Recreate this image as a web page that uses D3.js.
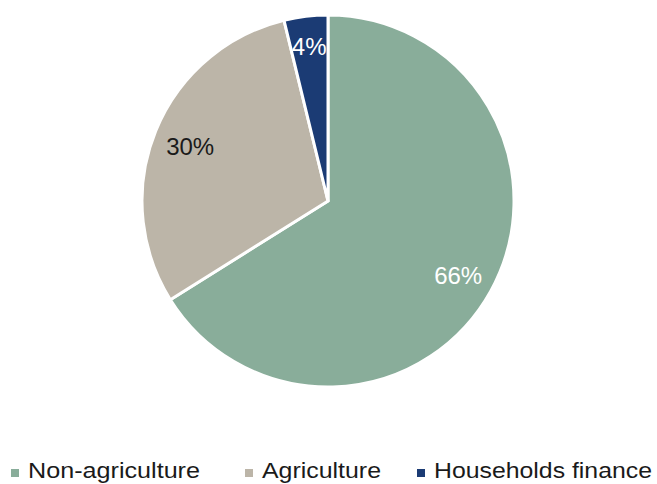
<!DOCTYPE html>
<html>
<head>
<meta charset="utf-8">
<script src="https://cdn.jsdelivr.net/npm/d3@7"></script>
<style>
  html, body { margin: 0; padding: 0; background: #ffffff; }
  svg { display: block; font-family: "Liberation Sans", Arial, sans-serif; }
</style>
</head>
<body>
<svg id="chart" width="657" height="484"></svg>
<script>
const categories = ["Non-agriculture", "Agriculture", "Households finance"];
const values = [66.1, 30.1, 3.8];
const colors = ["#89ad9a", "#bcb5a8", "#1b3b74"];
const labelColors = ["#ffffff", "#1a1a1a", "#ffffff"];

const W = 657, H = 484;
const cx = 328, cy = 201, R = 186;

const svg = d3.select("#chart");
const data = categories.map((c, i) => ({ name: c, value: values[i], color: colors[i], labelColor: labelColors[i] }));

const pie = d3.pie().value(d => d.value).sort(null);
const arcs = pie(data);
const arc = d3.arc().innerRadius(0).outerRadius(R);

const g = svg.append("g").attr("transform", `translate(${cx},${cy})`);
g.selectAll("path.slice")
  .data(arcs)
  .join("path")
  .attr("class", "slice")
  .attr("d", arc)
  .attr("fill", d => d.data.color)
  .attr("stroke", "#ffffff")
  .attr("stroke-width", 3)
  .attr("stroke-linejoin", "miter");

const labelArc = d => {
  const r = (d.endAngle - d.startAngle) < 0.5 ? R * 0.85 : R * 0.8;
  return d3.arc().innerRadius(r).outerRadius(r).centroid(d);
};

g.selectAll("text.lbl")
  .data(arcs)
  .join("text")
  .attr("class", "lbl")
  .attr("x", d => labelArc(d)[0])
  .attr("y", d => labelArc(d)[1] + 2)
  .attr("text-anchor", "middle")
  .attr("dominant-baseline", "central")
  .attr("font-size", 24)
  .attr("fill", d => d.data.labelColor)
  .text(d => Math.round(d.data.value) + "%");

// Legend
const legendX = [11, 245, 417];
const legendLen = [172, 119, 218];
const legend = svg.append("g");
const items = legend.selectAll("g.item")
  .data(data)
  .join("g")
  .attr("class", "item")
  .attr("transform", (d, i) => `translate(${legendX[i]},0)`);
items.append("rect")
  .attr("x", 0).attr("y", 469)
  .attr("width", 8).attr("height", 8)
  .attr("fill", d => d.color);
items.append("text")
  .attr("x", 17)
  .attr("y", 478)
  .attr("font-size", 22)
  .attr("fill", "#1a1a1a")
  .attr("textLength", (d, i) => legendLen[i])
  .attr("lengthAdjust", "spacingAndGlyphs")
  .text(d => d.name);
</script>
</body>
</html>
